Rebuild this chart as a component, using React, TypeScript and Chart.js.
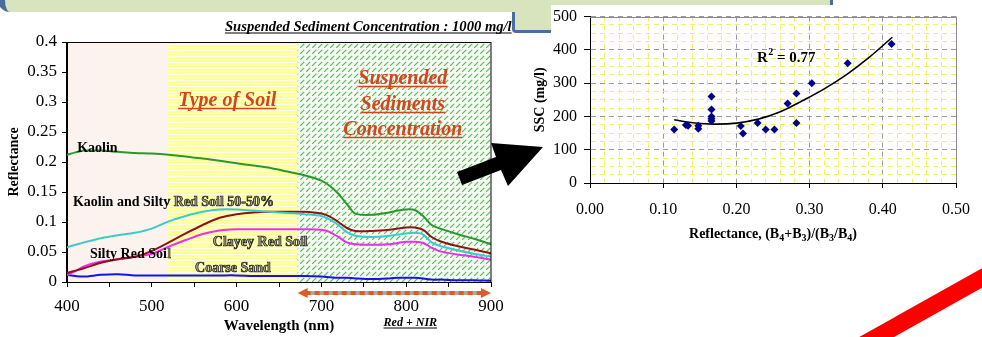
import React, { useEffect, useRef } from 'react';
import { Chart, registerables } from 'chart.js';

Chart.register(...registerables);

const FONT = '"Liberation Serif", "Times New Roman", serif';

// ---------------- Left chart data (spectral reflectance) ----------------
const WAVELENGTHS = [400, 410, 420, 440, 460, 480, 500, 520, 540, 560, 580, 600, 620, 640, 660, 680, 700, 710, 720, 730, 740, 760, 780, 790, 800, 810, 820, 830, 840, 860, 880, 900];
const KAOLIN = [0.212, 0.216, 0.219, 0.219, 0.217, 0.215, 0.214, 0.212, 0.209, 0.206, 0.202, 0.198, 0.194, 0.19, 0.184, 0.178, 0.169, 0.16, 0.147, 0.13, 0.114, 0.112, 0.116, 0.119, 0.121, 0.12, 0.11, 0.095, 0.089, 0.08, 0.072, 0.063];
const KAOLIN_SILTY_50 = [0.058, 0.062, 0.066, 0.073, 0.078, 0.082, 0.089, 0.101, 0.11, 0.117, 0.121, 0.121, 0.119, 0.117, 0.115, 0.113, 0.11, 0.104, 0.095, 0.083, 0.077, 0.075, 0.077, 0.079, 0.081, 0.082, 0.079, 0.066, 0.06, 0.053, 0.047, 0.042];
const SILTY_RED_SOIL = [0.015, 0.019, 0.023, 0.032, 0.038, 0.042, 0.052, 0.066, 0.081, 0.095, 0.107, 0.113, 0.116, 0.117, 0.117, 0.117, 0.114, 0.109, 0.1, 0.09, 0.085, 0.085, 0.087, 0.089, 0.091, 0.091, 0.087, 0.075, 0.068, 0.06, 0.054, 0.048];
const CLAYEY_RED_SOIL = [0.012, 0.018, 0.026, 0.034, 0.038, 0.042, 0.047, 0.059, 0.07, 0.08, 0.086, 0.088, 0.088, 0.088, 0.088, 0.088, 0.087, 0.083, 0.075, 0.066, 0.063, 0.062, 0.063, 0.065, 0.067, 0.067, 0.065, 0.057, 0.051, 0.046, 0.042, 0.037];
const COARSE_SAND = [0.012, 0.01, 0.009, 0.012, 0.013, 0.011, 0.011, 0.011, 0.011, 0.011, 0.011, 0.011, 0.01, 0.01, 0.01, 0.01, 0.009, 0.008, 0.007, 0.007, 0.006, 0.005, 0.006, 0.007, 0.007, 0.007, 0.006, 0.004, 0.004, 0.003, 0.003, 0.002];
const SERIES_NAMES = ['Kaolin', 'Kaolin and Silty Red Soil 50-50%', 'Silty Red Soil', 'Clayey Red Soil', 'Coarse Sand'];
const REGION_BOUNDS = [400, 519, 672, 900];
const REGION_TITLES = ['Type of Soil', 'Suspended', 'Sediments', 'Concentration'];
const LEFT_TITLE = 'Suspended Sediment Concentration : 1000 mg/l';
const BAND_LABEL = 'Red + NIR';

// ---------------- Right chart data (SSC vs reflectance) ----------------
const SSC_X = [0.115, 0.131, 0.134, 0.148, 0.148, 0.166, 0.166, 0.166, 0.166, 0.166, 0.206, 0.209, 0.229, 0.24, 0.252, 0.27, 0.282, 0.282, 0.303, 0.352, 0.412];
const SSC_Y = [161, 174, 172, 172, 163, 260, 221, 200, 193, 186, 171, 149, 180, 161, 161, 239, 269, 180, 300, 360, 418];
const TREND_X = [0.115, 0.14, 0.17, 0.2, 0.23, 0.26, 0.29, 0.32, 0.35, 0.38, 0.413];
const TREND_Y = [190, 181, 177, 180, 192, 214, 247, 283, 325, 375, 438];
const R2_VALUE = '0.77';

const isMult = (v: number, step: number) => Math.abs(v / step - Math.round(v / step)) < 1e-6;

function drawUnderlined(ctx: CanvasRenderingContext2D, text: string, x: number, y: number, align: CanvasTextAlign, off: number, lw: number) {
  ctx.textAlign = align;
  ctx.textBaseline = 'alphabetic';
  ctx.fillText(text, x, y);
  const w = ctx.measureText(text).width;
  const x0 = align === 'center' ? x - w / 2 : align === 'right' ? x - w : x;
  ctx.beginPath();
  ctx.lineWidth = lw;
  ctx.strokeStyle = ctx.fillStyle as string;
  ctx.moveTo(x0, y + off);
  ctx.lineTo(x0 + w, y + off);
  ctx.stroke();
}

function yellowPattern(ctx: CanvasRenderingContext2D) {
  const c = document.createElement('canvas');
  c.width = 4; c.height = 3;
  const g = c.getContext('2d')!;
  g.fillStyle = '#FFFFE4'; g.fillRect(0, 0, 4, 3);
  g.fillStyle = '#FFFF9C'; g.fillRect(0, 0, 4, 2);
  return ctx.createPattern(c, 'repeat')!;
}

function hatchPattern(ctx: CanvasRenderingContext2D) {
  const c = document.createElement('canvas');
  c.width = 6; c.height = 6;
  const g = c.getContext('2d')!;
  g.fillStyle = '#F6FBF4'; g.fillRect(0, 0, 6, 6);
  g.strokeStyle = '#5DB85D'; g.lineWidth = 1.2;
  g.beginPath(); g.moveTo(0, 6); g.lineTo(4.2, 1.8); g.stroke();
  return ctx.createPattern(c, 'repeat')!;
}

const leftDecor = {
  id: 'leftDecor',
  beforeDraw(chart: any) {
    const { ctx, chartArea: a, scales: { x } } = chart;
    const p = REGION_BOUNDS.map((v) => x.getPixelForValue(v));
    ctx.save();
    ctx.fillStyle = '#FCF3EE';
    ctx.fillRect(p[0], a.top, p[1] - p[0], a.bottom - a.top);
    ctx.fillStyle = yellowPattern(ctx);
    ctx.fillRect(p[1], a.top, p[2] - p[1], a.bottom - a.top);
    ctx.fillStyle = hatchPattern(ctx);
    ctx.fillRect(p[2], a.top, p[3] - p[2], a.bottom - a.top);
    ctx.restore();
  },
  afterDatasetsDraw(chart: any) {
    const { ctx, scales: { x, y } } = chart;
    const split = x.getPixelForValue(REGION_BOUNDS[1]);
    const anchors = [[412, 0.2175], [407, 0.1262], [427, 0.0407], [572, 0.0607], [551, 0.0173]];
    ctx.save();
    ctx.font = `bold 14px ${FONT}`;
    ctx.textAlign = 'left';
    ctx.textBaseline = 'alphabetic';
    SERIES_NAMES.forEach((name, i) => {
      const px = x.getPixelForValue(anchors[i][0]);
      const py = y.getPixelForValue(anchors[i][1]);
      ctx.fillStyle = '#000';
      ctx.fillText(name, px, py);
      const w = ctx.measureText(name).width;
      if (px + w > split) {
        ctx.save();
        ctx.beginPath();
        ctx.rect(split, 0, 2000, 2000);
        ctx.clip();
        ctx.fillStyle = '#A8A27E';
        ctx.fillText(name, px, py);
        ctx.strokeStyle = '#2a2a2a';
        ctx.lineWidth = 0.7;
        ctx.strokeText(name, px, py);
        ctx.restore();
      }
    });
    ctx.font = `bold italic 20px ${FONT}`;
    ctx.fillStyle = '#D2451E';
    drawUnderlined(ctx, REGION_TITLES[0], x.getPixelForValue(589), y.getPixelForValue(0.2933), 'center', 2.5, 1.5);
    drawUnderlined(ctx, REGION_TITLES[1], x.getPixelForValue(796), y.getPixelForValue(0.3300), 'center', 2.5, 1.5);
    drawUnderlined(ctx, REGION_TITLES[2], x.getPixelForValue(796), y.getPixelForValue(0.2867), 'center', 2.5, 1.5);
    drawUnderlined(ctx, REGION_TITLES[3], x.getPixelForValue(796), y.getPixelForValue(0.2450), 'center', 2.5, 1.5);
    ctx.restore();
  },
  afterDraw(chart: any) {
    const { ctx, chartArea: a, scales: { x } } = chart;
    ctx.save();
    ctx.strokeStyle = '#000';
    ctx.lineWidth = 1;
    ctx.strokeRect(Math.round(a.left) - 0.5, Math.round(a.top) + 0.5, Math.round(a.right - a.left) + 0.5, Math.round(a.bottom - a.top));
    // Red + NIR double arrow
    const x0 = x.getPixelForValue(REGION_BOUNDS[2]);
    const x1 = x.getPixelForValue(REGION_BOUNDS[3]);
    const ay = a.bottom + 11;
    ctx.lineWidth = 4;
    ctx.strokeStyle = '#A9A9A9';
    ctx.beginPath(); ctx.moveTo(x0 + 8, ay); ctx.lineTo(x1 - 8, ay); ctx.stroke();
    ctx.strokeStyle = '#DE5A26';
    ctx.setLineDash([5, 4]);
    ctx.beginPath(); ctx.moveTo(x0 + 8, ay); ctx.lineTo(x1 - 8, ay); ctx.stroke();
    ctx.setLineDash([]);
    ctx.fillStyle = '#DE5A26';
    ctx.beginPath(); ctx.moveTo(x0, ay); ctx.lineTo(x0 + 10, ay - 5); ctx.lineTo(x0 + 10, ay + 5); ctx.closePath(); ctx.fill();
    ctx.beginPath(); ctx.moveTo(x1, ay); ctx.lineTo(x1 - 10, ay - 5); ctx.lineTo(x1 - 10, ay + 5); ctx.closePath(); ctx.fill();
    ctx.fillStyle = '#000';
    ctx.font = `bold italic 12px ${FONT}`;
    drawUnderlined(ctx, BAND_LABEL, (x0 + x1) / 2 + 16, a.bottom + 44, 'center', 2, 1);
    ctx.font = `bold italic 14.6px ${FONT}`;
    drawUnderlined(ctx, LEFT_TITLE, a.left + 158, a.top - 11, 'left', 2, 1);
    ctx.restore();
  },
};

const rightDecor = {
  id: 'rightDecor',
  beforeDatasetsDraw(chart: any) {
    const { ctx, chartArea: a } = chart;
    ctx.save();
    ctx.strokeStyle = '#8C8C8C';
    ctx.lineWidth = 1;
    ctx.beginPath();
    ctx.moveTo(Math.round(a.left), Math.round(a.top) + 0.5);
    ctx.lineTo(Math.round(a.right) + 0.5, Math.round(a.top) + 0.5);
    ctx.lineTo(Math.round(a.right) + 0.5, Math.round(a.bottom));
    ctx.stroke();
    ctx.restore();
  },
  afterDatasetsDraw(chart: any) {
    const { ctx, scales: { x, y } } = chart;
    const px = x.getPixelForValue(0.228);
    const py = y.getPixelForValue(365);
    ctx.save();
    ctx.fillStyle = '#000';
    ctx.textAlign = 'left';
    ctx.textBaseline = 'alphabetic';
    ctx.font = `bold 15px ${FONT}`;
    ctx.fillText('R', px, py);
    const wR = ctx.measureText('R').width;
    ctx.font = `bold 10px ${FONT}`;
    ctx.fillText('2', px + wR + 0.5, py - 7);
    const w2 = ctx.measureText('2').width;
    ctx.font = `bold 15px ${FONT}`;
    ctx.fillText(' = ' + R2_VALUE, px + wR + w2 + 0.5, py);
    ctx.restore();
  },
  afterDraw(chart: any) {
    const { ctx, chartArea: a } = chart;
    const parts: [string, boolean][] = [
      ['Reflectance, (B', false], ['4', true], ['+B', false], ['3', true], [')/(B', false], ['3', true], ['/B', false], ['4', true], [')', false],
    ];
    const big = `bold 14px ${FONT}`;
    const small = `bold 10px ${FONT}`;
    ctx.save();
    ctx.fillStyle = '#000';
    ctx.textAlign = 'left';
    ctx.textBaseline = 'alphabetic';
    let total = 0;
    parts.forEach(([t, s]) => { ctx.font = s ? small : big; total += ctx.measureText(t).width; });
    let cx = (a.left + a.right) / 2 - total / 2;
    const by = a.bottom + 55;
    parts.forEach(([t, s]) => {
      ctx.font = s ? small : big;
      ctx.fillText(t, cx, s ? by + 3 : by);
      cx += ctx.measureText(t).width;
    });
    ctx.restore();
  },
};

function leftConfig(): any {
  const colors = ['#2A982A', '#3CCBCB', '#8E1414', '#EE2CEE', '#1414E6'];
  const series = [KAOLIN, KAOLIN_SILTY_50, SILTY_RED_SOIL, CLAYEY_RED_SOIL, COARSE_SAND];
  return {
    type: 'line',
    data: {
      datasets: series.map((s, i) => ({
        label: SERIES_NAMES[i],
        data: WAVELENGTHS.map((w, j) => ({ x: w, y: s[j] })),
        borderColor: colors[i],
        borderWidth: 2,
        pointRadius: 0,
        tension: 0.3,
        fill: false,
      })),
    },
    options: {
      responsive: false,
      animation: false,
      events: [],
      layout: { padding: { left: 0, right: 491, top: 42, bottom: 0 } },
      plugins: { legend: { display: false }, tooltip: { enabled: false } },
      scales: {
        x: {
          type: 'linear', min: 400, max: 900,
          afterFit: (s: any) => { s.height = 55; },
          ticks: {
            stepSize: 50, autoSkip: false, maxRotation: 0, padding: 9,
            font: { size: 17, family: FONT }, color: '#000',
            callback: (v: any) => (isMult(Number(v), 100) ? String(Math.round(Number(v))) : ''),
          },
          grid: { drawOnChartArea: false, drawTicks: true, tickLength: 5, tickColor: '#000' },
          border: { color: '#000', width: 1 },
          title: { display: true, text: 'Wavelength (nm)', color: '#000', font: { size: 15, weight: 'bold', family: FONT }, padding: { top: 0, bottom: 2 } },
        },
        y: {
          min: 0, max: 0.4,
          afterFit: (s: any) => { s.width = 67; },
          ticks: {
            stepSize: 0.05, padding: 5, autoSkip: false,
            font: { size: 17, family: FONT }, color: '#000',
            callback: (v: any) => String(Math.round(Number(v) * 100) / 100),
          },
          grid: { drawOnChartArea: false, drawTicks: true, tickLength: 5, tickColor: '#000' },
          border: { color: '#000', width: 1 },
          title: { display: true, text: 'Reflectance', color: '#000', font: { size: 14, weight: 'bold', family: FONT }, padding: { top: 6, bottom: 0 } },
        },
      },
    },
    plugins: [leftDecor],
  };
}

function rightConfig(): any {
  const majX = (v: any) => v !== undefined && isMult(Number(v), 0.1);
  const majY = (v: any) => v !== undefined && isMult(Number(v), 100);
  return {
    type: 'scatter',
    data: {
      datasets: [
        {
          label: 'SSC',
          data: SSC_X.map((v, i) => ({ x: v, y: SSC_Y[i] })),
          pointStyle: 'rectRot', pointRadius: 4, pointBorderWidth: 0,
          backgroundColor: '#00008B', borderColor: '#00008B',
        },
        {
          label: 'Trend',
          data: TREND_X.map((v, i) => ({ x: v, y: TREND_Y[i] })),
          showLine: true, borderColor: '#000', borderWidth: 1.6, pointRadius: 0, tension: 0.4, fill: false,
        },
      ],
    },
    options: {
      responsive: false,
      animation: false,
      events: [],
      layout: { padding: { left: 520, right: 15, top: 16, bottom: 92 } },
      plugins: { legend: { display: false }, tooltip: { enabled: false } },
      scales: {
        x: {
          type: 'linear', min: 0, max: 0.5,
          afterFit: (s: any) => { s.height = 62; },
          ticks: {
            stepSize: 0.02, autoSkip: false, maxRotation: 0, padding: 12,
            font: { size: 16, family: FONT }, color: '#000',
            callback: (v: any) => (majX(v) ? Number(v).toFixed(2) : ''),
          },
          grid: {
            color: (c: any) => (majX(c.tick?.value) ? '#9A9A9A' : '#F3EF6E'),
            lineWidth: 1, drawTicks: true, tickLength: 5,
            tickColor: (c: any) => (majX(c.tick?.value) ? '#000' : 'rgba(0,0,0,0)'),
          },
          border: { color: '#000', width: 1, dash: [5, 4] },
        },
        y: {
          min: 0, max: 500,
          afterFit: (s: any) => { s.width = 70; },
          ticks: {
            stepSize: 25, autoSkip: false, padding: 7,
            font: { size: 16, family: FONT }, color: '#000',
            callback: (v: any) => (majY(v) ? String(Math.round(Number(v))) : ''),
          },
          grid: {
            color: (c: any) => (majY(c.tick?.value) ? '#9A9A9A' : '#F3EF6E'),
            lineWidth: 1, drawTicks: true, tickLength: 6,
            tickColor: (c: any) => (majY(c.tick?.value) ? '#000' : 'rgba(0,0,0,0)'),
          },
          border: { color: '#000', width: 1, dash: [5, 4] },
          title: { display: true, text: 'SSC (mg/l)', color: '#000', font: { size: 14, weight: 'bold', family: FONT }, padding: { top: 12, bottom: 0 } },
        },
      },
    },
    plugins: [rightDecor],
  };
}

export default function App() {
  const leftRef = useRef<HTMLCanvasElement>(null);
  const rightRef = useRef<HTMLCanvasElement>(null);

  useEffect(() => {
    Chart.defaults.font.family = FONT;
    Chart.defaults.color = '#000';
    const c1 = new Chart(leftRef.current!, leftConfig());
    const c2 = new Chart(rightRef.current!, rightConfig());
    return () => { c1.destroy(); c2.destroy(); };
  }, []);

  const green = '#D7E4BD';
  const blue = '#4A6C9E';
  const abs: React.CSSProperties = { position: 'absolute' };

  return (
    <div style={{ position: 'fixed', left: 0, top: 0, width: 982, height: 337, overflow: 'hidden', background: '#fff' }}>
      <canvas ref={leftRef} width={982} height={337} style={{ ...abs, left: 0, top: 0, width: 982, height: 337 }} />
      <div style={{ ...abs, left: 512, top: -6, width: 315, height: 36, background: green, borderLeft: `3px solid ${blue}`, borderBottom: `3px solid ${blue}`, borderRight: `3px solid ${blue}`, borderBottomLeftRadius: 4 }} />
      <div style={{ ...abs, left: -2, top: -12, width: 518, height: 24, background: green, borderLeft: `7px solid ${blue}`, borderBottomLeftRadius: 12 }} />
      <div style={{ ...abs, left: 551, top: 5, width: 431, height: 245, background: '#fff' }} />
      <canvas ref={rightRef} width={982} height={337} style={{ ...abs, left: 0, top: 0, width: 982, height: 337 }} />
      <svg width={982} height={337} style={{ ...abs, left: 0, top: 0 }}>
        <polygon points="457,172 496,157 491,143 543,147 508,186 501,170 462,185" fill="#000" />
        <line x1={840} y1={357.5} x2={1000} y2={268} stroke="#FF0000" strokeWidth={17} />
      </svg>
    </div>
  );
}
